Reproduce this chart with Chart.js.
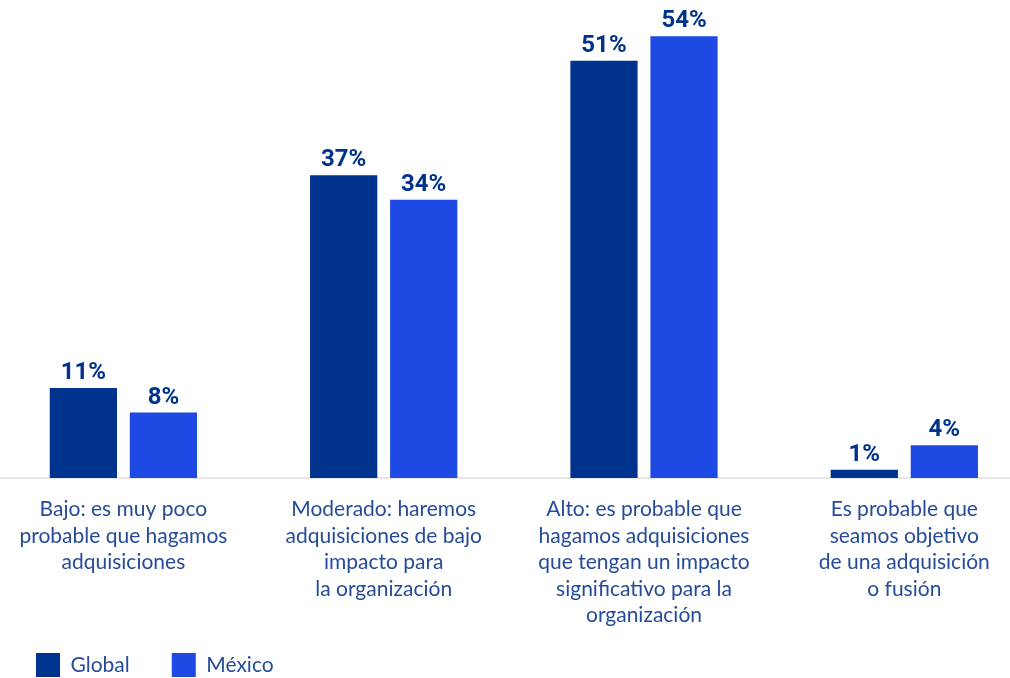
<!DOCTYPE html>
<html lang="es">
<head>
    <meta charset="UTF-8">
    <title>Adquisiciones</title>
    <script src="https://cdn.jsdelivr.net/npm/chart.js"></script>
    <style>
        body {
            margin: 0;
            padding: 0;
            background: #ffffff;
            overflow: hidden;
        }

        .chart-box {
            width: 1010px;
            height: 678px;
            position: relative;
        }
    </style>
</head>
<body>
    <div class="chart-box">
        <canvas id="barChart"></canvas>
    </div>

    <script>
        // Chart data
        var categories = [
            ['Bajo: es muy poco', 'probable que hagamos', 'adquisiciones'],
            ['Moderado: haremos', 'adquisiciones de bajo', 'impacto para', 'la organización'],
            ['Alto: es probable que', 'hagamos adquisiciones', 'que tengan un impacto', 'significativo para la', 'organización'],
            ['Es probable que', 'seamos objetivo', 'de una adquisición', 'o fusión']
        ];
        var seriesNames = ['Global', 'México'];
        var globalValues = [11, 37, 51, 1];
        var mexicoValues = [8, 34, 54, 4];

        var navy = '#00338D';
        var cobalt = '#1E49E2';
        var textBlue = '#264B9A';

        // Draws the "xx%" label above every bar
        var valueLabels = {
            id: 'valueLabels',
            afterDatasetsDraw: function(chart) {
                var ctx = chart.ctx;
                ctx.save();
                ctx.font = 'bold 24px Roboto';
                ctx.fillStyle = navy;
                ctx.textAlign = 'center';
                ctx.textBaseline = 'alphabetic';
                chart.data.datasets.forEach(function(ds, i) {
                    chart.getDatasetMeta(i).data.forEach(function(bar, j) {
                        ctx.fillText(ds.data[j] + '%', bar.x, bar.y - 9);
                    });
                });
                ctx.restore();
            }
        };

        // x axis box is shrunk so the legend sits close, let its labels overflow
        var unclipLabels = {
            id: 'unclipLabels',
            afterLayout: function(chart) {
                chart.scales.x.bottom = chart.height;
            }
        };

        Chart.defaults.font.family = 'Lato';

        var ctx = document.getElementById('barChart').getContext('2d');
        var barChart = new Chart(ctx, {
            type: 'bar',
            data: {
                labels: categories.map(function(c, i) { return i; }),
                datasets: [{
                    label: seriesNames[0],
                    data: globalValues,
                    backgroundColor: navy
                }, {
                    label: seriesNames[1],
                    data: mexicoValues,
                    backgroundColor: cobalt
                }]
            },
            options: {
                responsive: true,
                maintainAspectRatio: false,
                animation: false,
                categoryPercentage: 0.615,
                barPercentage: 0.84,
                layout: {
                    padding: { top: 3.4, left: -6, right: 0, bottom: -9 }
                },
                scales: {
                    x: {
                        type: 'linear',
                        min: -0.474,
                        max: 3.406,
                        offset: false,
                        grid: { display: false, drawTicks: false },
                        border: { display: true, color: '#e6e6e6', width: 2 },
                        afterBuildTicks: function(scale) {
                            scale.ticks = categories.map(function(c, i) { return { value: i }; });
                        },
                        afterFit: function(scale) {
                            scale.height -= 35.5;
                        },
                        ticks: {
                            autoSkip: false,
                            maxRotation: 0,
                            padding: 18,
                            color: textBlue,
                            font: { size: 21, lineHeight: 26.5 / 21 },
                            callback: function(value) {
                                return categories[value];
                            }
                        }
                    },
                    y: {
                        display: false,
                        min: 0,
                        max: 58
                    }
                },
                plugins: {
                    legend: {
                        display: true,
                        position: 'bottom',
                        align: 'start',
                        labels: {
                            boxWidth: 24,
                            boxHeight: 24,
                            padding: 42,
                            color: textBlue,
                            font: { size: 21 }
                        }
                    },
                    tooltip: { enabled: false }
                }
            },
            plugins: [valueLabels, unclipLabels]
        });
    </script>
</body>
</html>
